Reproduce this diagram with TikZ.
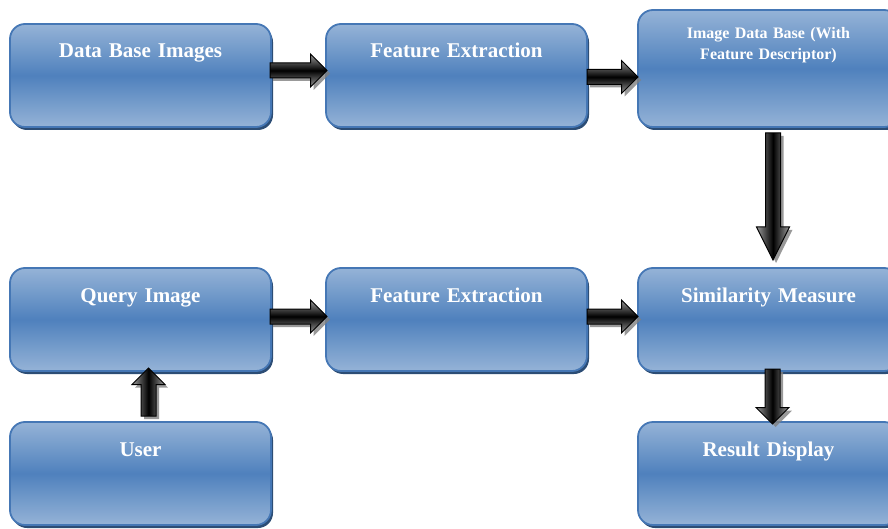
\documentclass[tikz,border=0pt]{standalone}
\usepackage{fontspec}
\setmainfont{Liberation Serif}
\usetikzlibrary{positioning,calc,shapes.arrows,shadows}

\definecolor{boxlight}{HTML}{95B3D7}
\definecolor{boxmid}{HTML}{4F81BD}
\definecolor{boxedge}{HTML}{4577B5}
\definecolor{boxshade}{HTML}{2C4D75}
\definecolor{arrowgrey}{HTML}{9A9A9A}

\tikzset{
  stage/.style={rectangle, rounded corners=15pt, draw=boxedge, line width=1.8pt,
    top color=boxlight, bottom color=boxlight, middle color=boxmid,
    minimum width=261pt, inner xsep=0pt, inner ysep=0pt, outer sep=0pt,
    text width=255pt, align=center, text height=34pt, text depth=69pt,
    text=white, font=\bfseries\fontsize{21}{24}\selectfont,
    drop shadow={fill=boxshade, opacity=1, shadow xshift=2pt, shadow yshift=-3pt}},
  flow/.style={single arrow, draw=black, line width=1pt, anchor=tail,
    single arrow head extend=9pt, inner xsep=0pt, inner ysep=7pt, outer sep=0pt,
    top color=arrowgrey, bottom color=arrowgrey, middle color=black,
    drop shadow={fill=gray, opacity=0.8, shadow xshift=3pt, shadow yshift=-3pt}},
  flowv/.style={flow, left color=arrowgrey, right color=arrowgrey, middle color=black},
}

\begin{document}
\begin{tikzpicture}
  \clip (0,0) rectangle (888pt,-529pt);
  % top row
  \node[stage] (dbimg) at (140.5pt,-75.5pt) {Data Base Images};
  \node[stage] (fe1) [right=55pt of dbimg] {Feature Extraction};
  \node[stage] (idb) [right=51pt of fe1.south east, anchor=south west,
    text height=29pt, text depth=88pt,
    font=\bfseries\fontsize{16}{21}\selectfont] {Image Data Base (With\\Feature Descriptor)};
  % bottom rows
  \node[stage] (query) [below=141pt of dbimg] {Query Image};
  \node[stage] (fe2) [right=55pt of query] {Feature Extraction};
  \node[stage] (sim) [right=51pt of fe2] {Similarity Measure};
  \node[stage] (user) [below=51pt of query] {User};
  \node[stage] (result) [below=51pt of sim] {Result Display};

  % block arrows
  \node[flow, minimum height=57pt] (a1) at ($(dbimg.east)+(-1pt,5pt)$) {};
  \node[flow, minimum height=51pt] (a2) at ($(fe1.east)+(0,-1.5pt)$) {};
  \node[flowv, minimum height=127pt, rotate=-90, single arrow tip angle=53]
    (a3) at ($(idb.south)+(4.5pt,-6pt)$) {};
  \node[flow, minimum height=57pt] (a4) at ($(query.east)+(-1pt,3pt)$) {};
  \node[flow, minimum height=51pt] (a5) at ($(fe2.east)+(0,3pt)$) {};
  \node[flowv, minimum height=55pt, rotate=-90] (a6) at ($(sim.south)+(4pt,2pt)$) {};
  \node[flowv, minimum height=48pt, rotate=90] (a7) at ($(user.north)+(8pt,6pt)$) {};
\end{tikzpicture}
\end{document}
